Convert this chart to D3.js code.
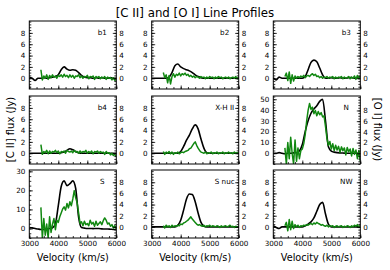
<!DOCTYPE html>
<html>
<head>
<meta charset="utf-8">
<script src="https://cdn.jsdelivr.net/npm/d3@7"></script>
<style>
  body { margin: 0; background: #fff; }
  text { font-family: "DejaVu Sans", sans-serif; fill: #000; }
</style>
</head>
<body>
<script>
// velocity grids (km/s)
const ciiVelocity = d3.range(3000, 6001, 100);
const oiVelocity = d3.range(3400, 6001, 50);

// [C II] profiles, left axis (Jy)
const ciiB1 = [0.1,0.0,-0.4,0.0,0.0,0.1,0.0,0.1,0.2,0.3,0.6,1.5,2.0,1.6,1.4,1.5,1.4,1.0,0.5,0.2,0.1,0.1,0.0,0.1,0.0,0.1,0.0,0.0,0.1,0.0,0.0];
const ciiB2 = [0.0,0.0,0.0,0.0,0.0,0.0,0.2,1.0,2.2,2.5,2.0,1.7,1.5,1.3,1.0,0.6,0.3,0.1,0.0,0.0,0.0,0.0,0.0,0.0,0.0,0.0,0.0,0.0,0.0,0.0,0.0];
const ciiB3 = [0.1,-0.3,0.2,0.0,0.0,0.0,0.0,0.0,0.0,0.0,0.0,0.3,1.5,2.8,3.2,2.9,1.8,0.6,0.0,0.0,0.1,0.0,0.0,0.1,0.0,0.0,0.1,0.1,0.0,0.1,0.2];
const ciiB4 = [0.0,0.0,0.0,0.0,0.0,0.0,0.0,0.0,0.0,0.0,0.0,0.1,0.2,0.5,0.8,0.6,0.3,0.1,0.0,0.0,0.0,0.0,0.0,0.0,0.0,0.0,0.0,0.0,0.0,0.0,0.0];
const ciiXH = [0.0,0.0,0.0,0.0,0.0,0.0,0.0,0.0,0.0,0.0,0.3,1.2,2.3,3.2,4.3,5.0,4.3,2.5,0.9,0.1,0.0,0.0,0.0,0.0,0.0,0.0,0.0,0.0,0.0,0.0,0.0];
const ciiN = [0.0,0.0,0.5,0.0,-0.5,0.0,0.0,0.3,0.5,2.0,8.0,20.0,30.0,37.0,41.0,44.0,48.0,50.0,30.0,6.0,2.0,1.0,0.5,0.3,0.2,0.0,0.0,0.0,0.0,0.0,0.0];
const ciiS = [0.5,0.3,0.0,-0.3,-0.5,-0.5,-0.3,0.0,0.4,2.5,12.0,22.0,25.0,22.5,23.5,25.0,21.0,6.0,0.5,0.2,0.0,0.0,-0.1,0.0,0.0,-0.2,-0.3,-0.3,-0.4,-0.5,-0.5];
const ciiSnuc = [0.0,0.0,0.0,0.0,0.0,0.0,0.0,0.0,0.0,0.3,1.2,3.0,5.0,5.9,5.8,4.5,2.5,0.8,0.1,0.0,0.0,0.0,0.0,0.0,0.0,0.0,0.0,0.0,0.0,0.0,0.0];
const ciiNW = [0.2,-0.1,-0.3,0.0,0.0,0.0,0.0,0.0,0.0,0.0,0.0,0.2,0.5,0.9,1.6,2.8,4.0,4.4,2.3,0.5,0.0,0.0,0.0,0.0,0.0,0.0,0.0,0.0,0.0,0.0,0.0];

// [O I] profiles, right axis (Jy)
const oiB1 = [1.5,-0.3,0.4,0.0,0.6,-0.2,0.5,0.1,0.6,0.2,0.4,0.0,0.5,0.3,0.6,0.2,0.7,0.3,0.5,0.1,0.6,0.2,0.5,0.0,0.4,0.3,0.6,0.1,0.4,0.0,0.3,0.2,0.5,-0.1,0.3,0.2,0.4,-0.2,0.3,0.1,0.3,-0.1,0.2,0.0,0.3,-0.2,0.2,0.0,0.1,-0.3,0.1,-0.4,-0.2];
const oiB2 = [1.0,0.1,0.6,-0.8,0.5,-1.0,0.3,0.8,0.2,0.7,0.5,0.9,0.4,0.8,0.6,0.9,0.5,0.7,0.3,0.5,0.2,0.4,0.1,0.3,0.2,0.0,0.3,0.1,0.2,-0.1,0.2,0.0,0.3,0.1,0.2,-0.1,0.2,0.0,0.3,0.1,0.2,-0.1,0.1,0.2,0.0,0.2,-0.1,0.1,0.2,0.0,0.3,-0.1,0.2];
const oiB3 = [0.3,0.9,-0.4,1.1,-0.9,0.6,-0.5,0.4,0.0,0.3,0.1,0.4,0.2,0.5,0.1,0.4,0.5,0.3,0.6,0.8,0.5,0.7,0.3,0.4,0.1,0.3,0.0,0.2,0.1,0.3,0.0,0.2,0.1,0.3,-0.1,0.2,0.0,0.2,0.1,0.3,-0.1,0.2,0.0,0.1,0.3,-0.1,0.2,0.0,0.4,-0.2,0.5,-0.1,0.4];
const oiB4 = [1.5,-0.2,0.3,0.1,0.5,-0.1,0.4,0.0,0.3,0.2,0.5,0.1,0.4,-0.1,0.3,0.2,0.4,0.0,0.5,0.3,0.2,0.4,0.1,0.5,0.2,0.3,0.0,0.4,0.1,0.3,0.2,0.5,0.0,0.3,0.1,0.4,-0.1,0.3,0.2,0.4,0.0,0.3,0.1,0.2,-0.2,0.3,0.0,0.1,-0.3,0.0,-0.4,-0.2,-0.6];
const oiXH = [0.3,-0.2,0.2,0.0,0.3,-0.1,0.2,-0.2,0.1,0.0,0.2,-0.1,0.1,0.2,0.1,0.3,0.4,0.5,0.8,0.9,1.3,1.7,2.0,1.4,0.9,0.5,0.2,0.1,0.0,0.2,-0.1,0.1,0.0,0.2,-0.1,0.1,0.0,0.2,-0.1,0.1,0.0,0.2,-0.1,0.1,0.0,0.2,0.0,0.1,-0.1,0.2,0.0,0.1,0.0];
const oiN = [1.0,-2.0,2.0,-1.0,3.0,0.0,-2.0,2.5,-1.5,1.0,-1.0,0.5,0.8,1.8,3.5,6.0,8.0,9.3,8.2,8.6,7.4,8.0,7.0,7.8,7.2,7.6,6.8,7.0,5.0,2.8,1.5,2.2,0.8,1.8,0.5,1.5,0.6,1.3,0.2,1.2,0.5,1.0,-0.3,1.1,0.3,0.8,-0.5,0.9,-0.2,0.6,-1.0,0.5,-1.5];
const oiS = [3.5,-2.0,1.5,-1.5,0.5,-2.0,1.8,-1.0,0.5,1.5,-0.5,1.2,0.8,1.8,2.5,3.2,3.6,3.0,4.2,3.4,4.5,3.8,5.0,6.5,5.2,4.3,2.5,0.6,0.9,0.2,1.0,0.4,0.6,0.2,1.2,0.5,0.8,0.1,1.0,0.3,0.6,0.9,0.4,1.1,1.6,1.2,0.5,0.7,0.1,0.4,-0.2,0.2,-0.4];
const oiSnuc = [0.2,-0.2,0.3,0.0,0.2,-0.1,0.3,0.0,0.2,0.1,0.3,0.2,0.5,0.4,0.7,0.8,1.0,1.2,1.5,1.8,1.4,1.1,0.8,0.5,0.3,0.4,0.2,0.1,0.3,0.0,0.2,0.1,0.3,0.0,0.2,0.1,0.0,0.2,0.1,-0.1,0.2,0.0,0.1,0.2,0.0,0.1,0.3,0.0,0.1,-0.1,0.1,0.0,-0.1];
const oiNW = [0.2,0.8,-0.7,1.3,-0.5,1.0,-0.3,0.4,0.0,0.3,-0.1,0.2,0.1,0.3,0.2,0.4,0.3,0.5,0.6,0.4,0.7,0.5,0.8,0.6,0.5,0.3,0.4,0.2,0.1,0.3,0.0,0.2,0.1,0.2,-0.1,0.1,0.2,0.0,0.1,0.2,-0.1,0.1,0.0,0.2,0.1,-0.1,0.2,0.0,0.3,0.1,0.4,-0.1,0.3];

const panelLabels = ["b1", "b2", "b3", "b4", "X-H II", "N", "S", "S nuc", "NW"];
const ciiSeries = [ciiB1, ciiB2, ciiB3, ciiB4, ciiXH, ciiN, ciiS, ciiSnuc, ciiNW];
const oiSeries = [oiB1, oiB2, oiB3, oiB4, oiXH, oiN, oiS, oiSnuc, oiNW];
const velocityTicks = [3000, 4000, 5000, 6000];
const smallTicks = [0, 2, 4, 6, 8];
const nTicks = [0, 10, 20, 30, 40, 50];
const sTicks = [0, 10, 20, 30];

const width = 390, height = 270;
const colLeft = [29.3, 151.7, 273.3];
const rowTop = [21, 96, 170];
const panelW = 87, panelH = 68;
const green = "#118811";

const svg = d3.select("body").append("svg")
  .attr("width", width)
  .attr("height", height);

svg.append("text")
  .attr("x", 195).attr("y", 17)
  .attr("text-anchor", "middle")
  .style("font-size", "11.8px")
  .text("[C II] and [O I] Line Profiles");

function leftSetup(i) {
  const row = Math.floor(i / 3);
  if (panelLabels[i] === "N") return { domain: [-10, 53], ticks: nTicks, minor: 2.5 };
  if (panelLabels[i] === "S") return { domain: [-5, 30.7], ticks: sTicks, minor: 2.5 };
  return { domain: row === 2 ? [-2, 10.2] : [-1.9, 10.1], ticks: smallTicks, minor: 0.5 };
}

function rightDomain(i) {
  if (panelLabels[i] === "N") return [-2, 10.7];
  const row = Math.floor(i / 3);
  return row === 2 ? [-2, 10.2] : [-1.9, 10.1];
}

function minorValues(domain, step) {
  const lo = Math.ceil(domain[0] / step) * step;
  return d3.range(lo, domain[1] + 1e-9, step);
}

panelLabels.forEach((label, i) => {
  const col = i % 3, row = Math.floor(i / 3);
  const g = svg.append("g")
    .attr("transform", `translate(${colLeft[col]},${rowTop[row]})`);

  const x = d3.scaleLinear().domain([3000, 6000]).range([0, panelW]);
  const ls = leftSetup(i);
  const yL = d3.scaleLinear().domain(ls.domain).range([panelH, 0]);
  const yR = d3.scaleLinear().domain(rightDomain(i)).range([panelH, 0]);

  g.append("clipPath").attr("id", `clip${i}`)
    .append("rect").attr("width", panelW).attr("height", panelH);

  const plot = g.append("g").attr("clip-path", `url(#clip${i})`);

  const ciiLine = d3.line()
    .x((d, k) => x(ciiVelocity[k]))
    .y(d => yL(d))
    .curve(d3.curveMonotoneX);
  const oiLine = d3.line()
    .x((d, k) => x(oiVelocity[k]))
    .y(d => yR(d));

  plot.append("path")
    .datum(ciiSeries[i])
    .attr("fill", "none")
    .attr("stroke", "#000")
    .attr("stroke-width", 1.6)
    .attr("d", ciiLine);

  plot.append("path")
    .datum(oiSeries[i])
    .attr("fill", "none")
    .attr("stroke", green)
    .attr("stroke-width", 1.5)
    .attr("stroke-linejoin", "round")
    .attr("d", oiLine);

  // left axis
  g.append("g")
    .call(d3.axisLeft(yL).tickValues(ls.ticks).tickSize(-3.5).tickPadding(4));
  g.append("g")
    .call(d3.axisLeft(yL).tickValues(minorValues(ls.domain, ls.minor)).tickSize(-2).tickFormat(""));

  // right axis
  g.append("g")
    .attr("transform", `translate(${panelW},0)`)
    .call(d3.axisRight(yR).tickValues(smallTicks).tickSize(-3.5).tickPadding(3));
  g.append("g")
    .attr("transform", `translate(${panelW},0)`)
    .call(d3.axisRight(yR).tickValues(minorValues(rightDomain(i), 0.5)).tickSize(-2).tickFormat(""));

  // bottom axis
  g.append("g")
    .attr("transform", `translate(0,${panelH})`)
    .call(d3.axisBottom(x).tickValues(velocityTicks).tickSize(-3.5).tickPadding(3)
      .tickFormat(row === 2 ? d3.format("d") : ""));
  g.append("g")
    .attr("transform", `translate(0,${panelH})`)
    .call(d3.axisBottom(x).tickValues(d3.range(3000, 6001, 250)).tickSize(-2).tickFormat(""));

  g.selectAll(".domain").remove();
  g.selectAll(".tick line").attr("stroke", "#000").attr("stroke-width", 0.8);
  g.selectAll(".tick text")
    .style("font-size", "7.2px")
    .style("font-family", "DejaVu Sans, sans-serif");

  g.append("rect")
    .attr("width", panelW).attr("height", panelH)
    .attr("fill", "none")
    .attr("stroke", "#000")
    .attr("stroke-width", 1);

  g.append("text")
    .attr("x", 73).attr("y", 14)
    .attr("text-anchor", "middle")
    .style("font-size", "7.2px")
    .text(label);
});

// shared axis titles
svg.append("text")
  .attr("transform", "translate(14,129.5) rotate(-90)")
  .attr("text-anchor", "middle")
  .style("font-size", "10px")
  .text("[C II] flux (Jy)");

svg.append("text")
  .attr("transform", "translate(374,129.5) rotate(90)")
  .attr("text-anchor", "middle")
  .style("font-size", "10px")
  .text("[O I] flux (Jy)");

colLeft.forEach(cx => {
  svg.append("text")
    .attr("x", cx + panelW / 2).attr("y", 261)
    .attr("text-anchor", "middle")
    .style("font-size", "9.7px")
    .text("Velocity (km/s)");
});
</script>
</body>
</html>
